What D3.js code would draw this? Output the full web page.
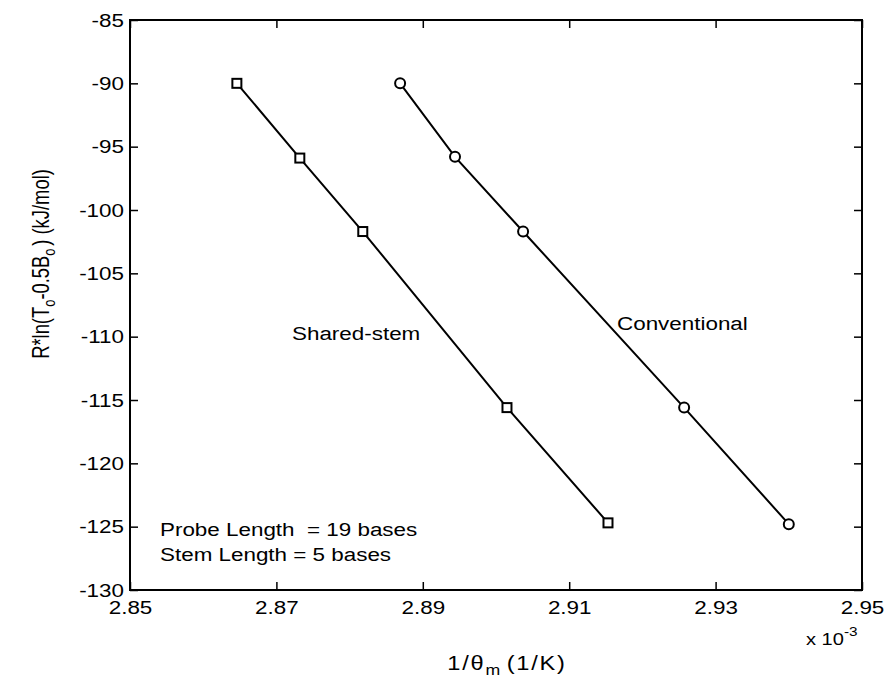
<!DOCTYPE html>
<html lang="en">
<head>
    <meta charset="utf-8">
    <title>Shared-stem vs Conventional</title>
    <script src="https://d3js.org/d3.v7.min.js"></script>
    <style>
        body {
            margin: 0;
            background: white;
            font-family: "Liberation Sans", Arial, Helvetica, sans-serif;
        }
        .tick text {
            font-family: "Liberation Sans", Arial, Helvetica, sans-serif;
            font-size: 19px;
            fill: #000;
        }
        .tick line {
            stroke: #000;
            stroke-width: 1.5;
        }
    </style>
</head>
<body>
<script>

    // values
    var sharedX = [2.8646, 2.8732, 2.8818, 2.9015, 2.9153];
    var sharedY = [-90.0, -95.9, -101.7, -115.6, -124.7];
    var convX = [2.8869, 2.8944, 2.9037, 2.9257, 2.9400];
    var convY = [-90.0, -95.8, -101.7, -115.6, -124.8];

    var xTicks = [2.85, 2.87, 2.89, 2.91, 2.93, 2.95];
    var yTicks = [-85, -90, -95, -100, -105, -110, -115, -120, -125, -130];

    var w = 886;
    var h = 677;
    // plot box edges (note: "top" is a reserved window prop, so use pTop etc)
    var pLeft = 130, pRight = 862, pTop = 20, pBottom = 590;
    var sx = 1.18; // the scanned figure is stretched sideways, so widen text a bit

    var svg = d3.select("body")
        .append("svg")
        .attr("width", w)
        .attr("height", h);

    var xScale = d3.scaleLinear()
        .domain([2.85, 2.95])
        .range([pLeft, pRight]);

    var yScale = d3.scaleLinear()
        .domain([-130, -85])
        .range([pBottom, pTop]);

    //axes, ticks pointing inward like matlab
    svg.append("g")
        .attr("transform", "translate(0," + pBottom + ")")
        .call(d3.axisBottom(xScale).tickValues(xTicks).tickSizeInner(-8).tickSizeOuter(0).tickPadding(11)
            .tickFormat(d3.format(".2f")))
        .call(function(g){
            g.select(".domain").remove();
            g.selectAll(".tick text").attr("transform", "scale(" + sx + ",1)");
        });

    svg.append("g")
        .attr("transform", "translate(0," + pTop + ")")
        .call(d3.axisTop(xScale).tickValues(xTicks).tickSizeInner(-8).tickSizeOuter(0).tickFormat(""))
        .call(function(g){ g.select(".domain").remove(); });

    svg.append("g")
        .attr("transform", "translate(" + pLeft + ",0)")
        .call(d3.axisLeft(yScale).tickValues(yTicks).tickSizeInner(-8).tickSizeOuter(0)
            .tickFormat(function(d){ return String(d); }))
        .call(function(g){
            g.select(".domain").remove();
            g.selectAll(".tick text")
                .attr("x", 0)
                .attr("transform", "translate(-6,0) scale(" + sx + ",1)");
        });

    svg.append("g")
        .attr("transform", "translate(" + pRight + ",0)")
        .call(d3.axisRight(yScale).tickValues(yTicks).tickSizeInner(-8).tickSizeOuter(0).tickFormat(""))
        .call(function(g){ g.select(".domain").remove(); });

    //box
    svg.append("rect")
        .attr("x", pLeft)
        .attr("y", pTop)
        .attr("width", pRight - pLeft)
        .attr("height", pBottom - pTop)
        .attr("fill", "none")
        .attr("stroke", "#000")
        .attr("stroke-width", 2);

    var line = d3.line()
        .x(function(d){ return xScale(d[0]); })
        .y(function(d){ return yScale(d[1]); });

    var shared = d3.zip(sharedX, sharedY);
    var conv = d3.zip(convX, convY);

    svg.append("path")
        .datum(shared)
        .attr("d", line)
        .attr("fill", "none")
        .attr("stroke", "#000")
        .attr("stroke-width", 2);

    svg.append("path")
        .datum(conv)
        .attr("d", line)
        .attr("fill", "none")
        .attr("stroke", "#000")
        .attr("stroke-width", 2);

    //square markers
    svg.selectAll("rect.sq")
        .data(shared)
        .enter()
        .append("rect")
        .attr("class", "sq")
        .attr("x", function(d){ return xScale(d[0]) - 4.5; })
        .attr("y", function(d){ return yScale(d[1]) - 4.5; })
        .attr("width", 9)
        .attr("height", 9)
        .attr("fill", "white")
        .attr("stroke", "#000")
        .attr("stroke-width", 2);

    //circle markers
    svg.selectAll("circle")
        .data(conv)
        .enter()
        .append("circle")
        .attr("cx", function(d){ return xScale(d[0]); })
        .attr("cy", function(d){ return yScale(d[1]); })
        .attr("r", 5)
        .attr("fill", "white")
        .attr("stroke", "#000")
        .attr("stroke-width", 2);

    //labels
    var txt = svg.append("g")
        .attr("font-size", "19px")
        .attr("fill", "#000");

    function label(x, y, s) {
        return txt.append("text")
            .attr("transform", "translate(" + x + "," + y + ") scale(" + sx + ",1)")
            .attr("xml:space", "preserve")
            .text(s);
    }

    label(292, 340, "Shared-stem");
    label(617, 330, "Conventional");
    label(160, 536, "Probe Length  = 19 bases");
    label(160, 561, "Stem Length = 5 bases");

    //x 10^-3
    var mult = label(806, 645, "").attr("font-size", "17px");
    mult.append("tspan").text("x 10");
    mult.append("tspan").attr("dy", -9).attr("font-size", "13px").text("-3");

    //x axis label
    var xl = txt.append("text")
        .attr("transform", "translate(507,670) scale(" + sx + ",1)")
        .attr("text-anchor", "middle")
        .attr("letter-spacing", "1.5px")
        .attr("font-size", "20px");
    xl.append("tspan").text("1/\u03b8");
    xl.append("tspan").attr("dy", 5).attr("font-size", "15px").text("m");
    xl.append("tspan").attr("dy", -5).attr("dx", 4).text("(1/K)");

    //y axis label (vertical direction is squashed in the scan)
    var yl = txt.append("text")
        .attr("transform", "translate(49,264) rotate(-90) scale(0.92,1.15)")
        .attr("text-anchor", "middle")
        .attr("font-size", "20px");
    yl.append("tspan").text("R*ln(T");
    yl.append("tspan").attr("dy", 5).attr("font-size", "14px").text("o");
    yl.append("tspan").attr("dy", -5).text("-0.5B");
    yl.append("tspan").attr("dy", 5).attr("font-size", "14px").text("o");
    yl.append("tspan").attr("dy", -5).attr("dx", 3).text(") (kJ/mol)");

</script>
</body>
</html>
